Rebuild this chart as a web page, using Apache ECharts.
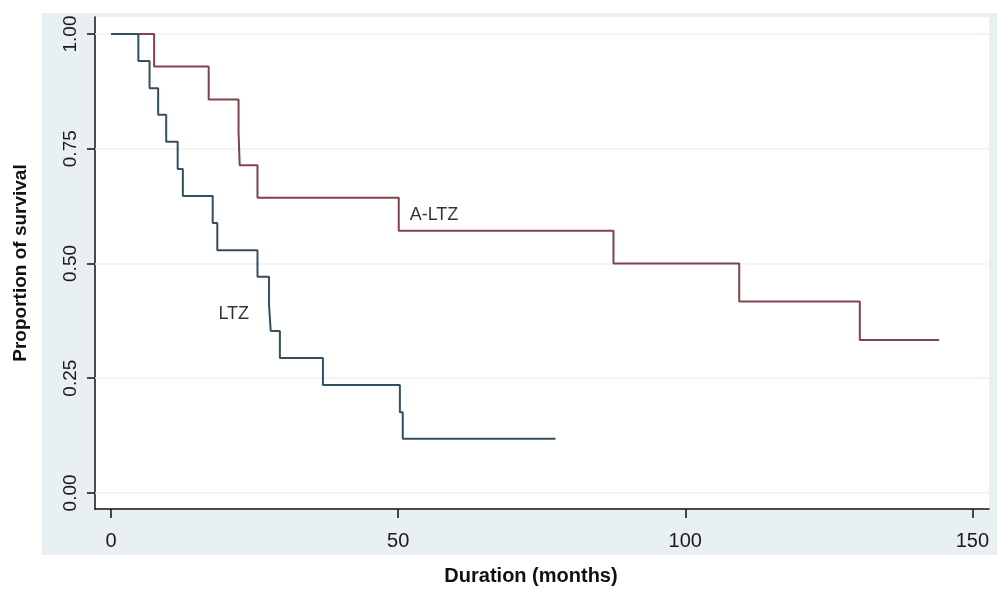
<!DOCTYPE html>
<html>
<head>
<meta charset="utf-8">
<script src="https://cdn.jsdelivr.net/npm/echarts@6/dist/echarts.min.js"></script>
<style>
  html, body { margin: 0; padding: 0; background: #fff; }
  #chart { width: 997px; height: 589px; }
</style>
</head>
<body>
<div id="chart"></div>
<script>
// Kaplan-Meier steps: time of each drop (months) and survival after it
var altzTime = [0, 7.5, 17.0, 22.2, 22.4, 25.5, 50.1, 87.5, 109.4, 130.4, 144.2];
var altzSurv = [1.0, 0.929, 0.857, 0.786, 0.714, 0.643, 0.571, 0.500, 0.417, 0.333, 0.333];

var ltzTime = [0, 4.75, 6.7, 8.2, 9.6, 11.6, 12.5, 17.7, 18.5, 25.5, 27.5, 27.8, 29.4, 36.9, 50.3, 50.8, 77.4];
var ltzSurv = [1.0, 0.941, 0.882, 0.824, 0.765, 0.706, 0.647, 0.588, 0.529, 0.471, 0.412, 0.353, 0.294, 0.235, 0.176, 0.118, 0.118];

var xTicks = [0, 50, 100, 150];
var yTicks = [0, 0.25, 0.5, 0.75, 1];

function pairs(xs, ys) {
  return xs.map(function (x, i) { return [x, ys[i]]; });
}

var chart = echarts.init(document.getElementById('chart'));
var font = 'Liberation Sans, Arial, sans-serif';

chart.setOption({
  animation: false,
  backgroundColor: '#fff',
  graphic: [{
    type: 'rect',
    z: -10,
    shape: { x: 42, y: 13, width: 955, height: 542 },
    style: { fill: '#e9f0f3' }
  }],
  grid: {
    left: 95,
    right: 8,
    top: 17,
    bottom: 80,
    outerBoundsMode: 'none',
    containLabel: false,
    show: true,
    backgroundColor: '#fff',
    borderWidth: 0
  },
  xAxis: {
    type: 'value',
    min: -2.8,
    max: 152.9,
    name: 'Duration (months)',
    nameLocation: 'middle',
    nameGap: 57,
    nameTextStyle: { fontFamily: font, fontSize: 20, fontWeight: 'bold', color: '#111', padding: [0, 22, 0, 0] },
    axisLine: { show: true, onZero: false, lineStyle: { color: '#111', width: 1.5 } },
    axisTick: { show: true, length: 9, customValues: xTicks, lineStyle: { color: '#111', width: 1.5 } },
    axisLabel: { customValues: xTicks, fontFamily: font, fontSize: 20, color: '#1a1a1a', margin: 22 },
    splitLine: { show: false }
  },
  yAxis: {
    type: 'value',
    min: -0.035,
    max: 1.037,
    name: 'Proportion of survival',
    nameLocation: 'middle',
    nameGap: 65,
    nameRotate: 90,
    nameTextStyle: { fontFamily: font, fontSize: 19, fontWeight: 'bold', color: '#111' },
    axisLine: { show: true, onZero: false, lineStyle: { color: '#111', width: 1.5 } },
    axisTick: { show: true, length: 8, customValues: yTicks, lineStyle: { color: '#111', width: 1.5 } },
    axisLabel: {
      customValues: yTicks,
      rotate: 90,
      fontFamily: font,
      fontSize: 19,
      color: '#1a1a1a',
      margin: 15,
      formatter: function (v) { return v.toFixed(2); }
    },
    splitLine: { show: false }
  },
  series: [{
    name: 'A-LTZ',
    type: 'line',
    step: 'end',
    showSymbol: false,
    data: pairs(altzTime, altzSurv),
    lineStyle: { color: '#824249', width: 2 },
    z: 3,
    markLine: {
      silent: true,
      symbol: 'none',
      label: { show: false },
      lineStyle: { color: '#eef2f4', width: 1.5, type: 'solid' },
      data: yTicks.map(function (v) { return { yAxis: v }; }),
      z: 1
    }
  }, {
    name: 'LTZ',
    type: 'line',
    step: 'end',
    showSymbol: false,
    data: pairs(ltzTime, ltzSurv),
    lineStyle: { color: '#34505f', width: 2 },
    z: 4
  }, {
    type: 'scatter',
    symbolSize: 0,
    silent: true,
    data: [[52, 0.605, 'A-LTZ'], [18.7, 0.39, 'LTZ']],
    label: {
      show: true,
      position: 'right',
      distance: 0,
      formatter: function (p) { return p.value[2]; },
      fontFamily: font,
      fontSize: 18,
      color: '#000'
    }
  }]
});
</script>
</body>
</html>
